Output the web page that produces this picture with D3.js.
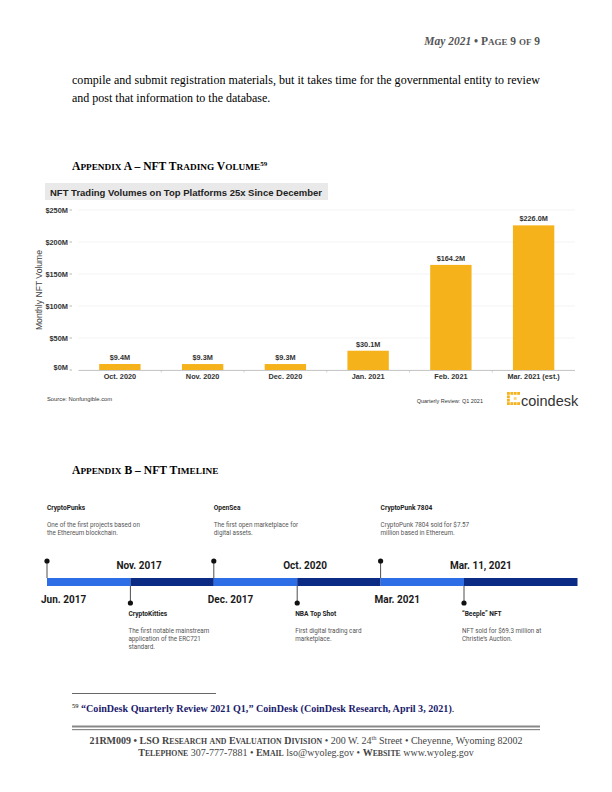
<!DOCTYPE html>
<html><head><meta charset="utf-8">
<script src="https://cdn.jsdelivr.net/npm/d3@7"></script>
<style>
html,body{margin:0;padding:0;background:#fff;}
svg{display:block;}
</style></head>
<body>
<svg id="page" width="612" height="792"></svg>
<script>
// ---------- DATA ----------
const months = ["Oct. 2020","Nov. 2020","Dec. 2020","Jan. 2021","Feb. 2021","Mar. 2021 (est.)"];
const volumes = [9.4, 9.3, 9.3, 30.1, 164.2, 226.0];
const volumeLabels = ["$9.4M","$9.3M","$9.3M","$30.1M","$164.2M","$226.0M"];
const yTicks = [0, 50, 100, 150, 200, 250];

const eventDates = ["Jun. 2017","Nov. 2017","Dec. 2017","Oct. 2020","Mar. 2021","Mar. 11, 2021"];
const eventTitles = ["CryptoPunks","CryptoKitties","OpenSea","NBA Top Shot","CryptoPunk 7804","\u201CBeeple\u201D NFT"];
const eventSides = ["top","bottom","top","bottom","top","bottom"];
const eventDescs = [
  ["One of the first projects based on","the Ethereum blockchain."],
  ["The first notable mainstream","application of the ERC721","standard."],
  ["The first open marketplace for","digital assets."],
  ["First digital trading card","marketplace."],
  ["CryptoPunk 7804 sold for $7.57","million based in Ethereum."],
  ["NFT sold for $69.3 million at","Christie\u2019s Auction."]
];

const svg = d3.select("#page");
const serif = "'Liberation Serif','Times New Roman',serif";
const sans = "'Liberation Sans',Arial,sans-serif";
const rob = "Roboto,'Liberation Sans',sans-serif";

// manual small caps: append tspans into a text selection
function smallCaps(sel, str, size, ratio){
  const re = /([a-z]+)|([^a-z]+)/g; let m;
  while((m = re.exec(str))){
    if(m[1]) sel.append("tspan").attr("font-size", size*ratio).text(m[1].toUpperCase());
    else sel.append("tspan").attr("font-size", size).text(m[2]);
  }
}

// ---------- HEADER ----------
const hdr = svg.append("text").attr("x", 540).attr("y", 45).attr("text-anchor","end")
  .attr("font-family", serif).attr("font-size", 11.5).attr("font-weight","bold").attr("fill","#555");
hdr.append("tspan").attr("font-style","italic").text("May 2021");
hdr.append("tspan").text(" \u2022 ");
smallCaps(hdr, "Page 9 of 9", 11.5, 0.78);

// ---------- BODY ----------
svg.append("text").attr("x",72).attr("y",84).attr("font-family",serif).attr("font-size",12).attr("fill","#000")
  .attr("textLength",468).attr("lengthAdjust","spacing")
  .text("compile and submit registration materials, but it takes time for the governmental entity to review");
svg.append("text").attr("x",72).attr("y",102).attr("font-family",serif).attr("font-size",12).attr("fill","#000")
  .text("and post that information to the database.");

// ---------- APPENDIX A TITLE ----------
const ta = svg.append("text").attr("x",72).attr("y",170).attr("font-family",serif).attr("font-size",11.6)
  .attr("font-weight","bold").attr("fill","#000");
smallCaps(ta, "Appendix A \u2013 NFT Trading Volume", 11.6, 0.8);
ta.append("tspan").attr("font-size",7).attr("dy",-4).text("59");

// ---------- CHART ----------
svg.append("rect").attr("x",45).attr("y",183).attr("width",283).attr("height",17).attr("fill","#e9e9e9");
svg.append("text").attr("x",50).attr("y",195.5).attr("font-family",sans).attr("font-weight","bold")
  .attr("font-size",9.5).attr("fill","#222").text("NFT Trading Volumes on Top Platforms 25x Since December");

const x = d3.scaleBand().domain(months).range([78.5, 575]).paddingInner(0.5).paddingOuter(0.25);
const y = d3.scaleLinear().domain([0, 250]).range([370, 210]);

const g = svg.append("g");
// gridlines
g.selectAll(".grid").data(yTicks).join("line")
  .attr("x1",78.5).attr("x2",575).attr("y1",d=>y(d)).attr("y2",d=>y(d))
  .attr("stroke","#f0f0f0").attr("stroke-width",0.8);
// y tick labels
g.selectAll(".yl").data(yTicks).join("text")
  .attr("x",68).attr("y",d=>y(d)).attr("dy",d=> d===0 ? "0.05em" : "0.35em").attr("text-anchor","end")
  .attr("font-family",sans).attr("font-size",7.4).attr("font-weight","bold").attr("fill","#333")
  .text(d=>"$"+d+"M");
g.selectAll(".yt").data(yTicks).join("line")
  .attr("x1",69.5).attr("x2",72).attr("y1",d=>y(d)).attr("y2",d=>y(d)).attr("stroke","#888").attr("stroke-width",0.6);
// y axis title
svg.append("text").attr("transform","translate(42,"+y(125)+") rotate(-90)").attr("text-anchor","middle")
  .attr("font-family",sans).attr("font-size",8.6).attr("fill","#444").text("Monthly NFT Volume");

// bars
g.selectAll(".bar").data(volumes).join("rect")
  .attr("x",(d,i)=>x(months[i])).attr("width",x.bandwidth())
  .attr("y",d=>y(d)).attr("height",d=>y(0)-y(d)).attr("fill","#f6b21b");
// bar labels
g.selectAll(".bl").data(volumes).join("text")
  .attr("x",(d,i)=>x(months[i])+x.bandwidth()/2).attr("y",d=>y(d)-4)
  .attr("text-anchor","middle").attr("font-family",sans).attr("font-size",7.3).attr("font-weight","bold").attr("fill","#333")
  .text((d,i)=>volumeLabels[i]);
// x axis
g.append("line").attr("x1",78.5).attr("x2",575).attr("y1",y(0)+0.5).attr("y2",y(0)+0.5).attr("stroke","#bbb").attr("stroke-width",0.8);
g.selectAll(".xt").data(months.slice(1)).join("line")
  .attr("x1",d=>x(d)-x.step()*0.25).attr("x2",d=>x(d)-x.step()*0.25)
  .attr("y1",y(0)).attr("y2",y(0)+2.5).attr("stroke","#bbb").attr("stroke-width",0.6);
g.selectAll(".xl").data(months).join("text")
  .attr("x",d=>x(d)+x.bandwidth()/2).attr("y",y(0)+9)
  .attr("text-anchor","middle").attr("font-family",sans).attr("font-size",7.3).attr("font-weight","bold").attr("fill","#333")
  .text(d=>d);

// source & branding
svg.append("text").attr("x",47).attr("y",401).attr("font-family",sans).attr("font-size",5.8).attr("fill","#333")
  .text("Source: Nonfungible.com");
svg.append("text").attr("x",483).attr("y",403).attr("text-anchor","end").attr("font-family",sans).attr("font-size",5.5).attr("fill","#333")
  .text("Quarterly Review: Q1 2021");
// coindesk logo icon
const logo = svg.append("g").attr("transform","translate(507,392)");
const cells = [[0,0],[1,0],[2,0],[3,0],[0,1],[0,2],[0,3],[1,3],[2,3],[3,3],[2,1.5]];
logo.selectAll("rect").data(cells).join("rect")
  .attr("x",d=>d[0]*3.4).attr("y",d=>d[1]*3.4).attr("width",2.8).attr("height",2.8)
  .attr("fill",(d,i)=>i===10?"#fbd27a":"#f6b21b");
svg.append("text").attr("x",521).attr("y",405.5).attr("font-family",sans).attr("font-size",14.5).attr("fill","#333")
  .text("coindesk");

// ---------- APPENDIX B TITLE ----------
const tb = svg.append("text").attr("x",72).attr("y",474).attr("font-family",serif).attr("font-size",11.6)
  .attr("font-weight","bold").attr("fill","#000");
smallCaps(tb, "Appendix B \u2013 NFT Timeline", 11.6, 0.8);

// ---------- TIMELINE ----------
const tx = d3.scalePoint().domain(eventDates).range([47, 464]);
const barY = 578, barH = 8, barEnd = 577.5;
const tl = svg.append("g");
tl.selectAll(".seg").data(eventDates).join("rect")
  .attr("x",d=>tx(d)).attr("y",barY)
  .attr("width",(d,i)=> (i<eventDates.length-1 ? tx(eventDates[i+1]) : barEnd) - tx(d))
  .attr("height",barH).attr("fill",(d,i)=> i%2===0 ? "#2d6ee6" : "#0b2b85");
// stems + dots
tl.selectAll(".stem").data(eventDates).join("line")
  .attr("x1",d=>tx(d)).attr("x2",d=>tx(d))
  .attr("y1",(d,i)=> eventSides[i]==="top" ? 561 : barY+barH)
  .attr("y2",(d,i)=> eventSides[i]==="top" ? barY : 603)
  .attr("stroke","#222").attr("stroke-width",0.8);
tl.selectAll(".dot").data(eventDates).join("circle")
  .attr("cx",d=>tx(d)).attr("cy",(d,i)=> eventSides[i]==="top" ? 561 : 603)
  .attr("r",2.6).attr("fill","#111");
// date labels
tl.selectAll(".dl").data(eventDates).join("text")
  .attr("x",(d,i)=> eventSides[i]==="top" ? tx(d)-6 : tx(d)-14)
  .attr("y",(d,i)=> eventSides[i]==="top" ? 602.5 : 568.5)
  .attr("font-family",rob).attr("font-weight","bold").attr("font-size",10).attr("fill","#1a1a1a")
  .text(d=>d);
// event titles
tl.selectAll(".et").data(eventTitles).join("text")
  .attr("x",(d,i)=> eventSides[i]==="top" ? tx(eventDates[i]) : tx(eventDates[i])-2)
  .attr("y",(d,i)=> eventSides[i]==="top" ? 510 : 616)
  .attr("font-family",rob).attr("font-weight","bold").attr("font-size",6.6).attr("fill","#222")
  .text(d=>d);
// event descriptions
eventDescs.forEach((lines,i)=>{
  const xx = eventSides[i]==="top" ? tx(eventDates[i]) : tx(eventDates[i])-2;
  const y0 = eventSides[i]==="top" ? 527 : 632.5;
  tl.append("g").selectAll("text").data(lines).join("text")
    .attr("x",xx).attr("y",(d,j)=>y0+j*8.4)
    .attr("font-family",rob).attr("font-size",6.3).attr("fill","#555")
    .text(d=>d);
});

// ---------- FOOTNOTE ----------
svg.append("line").attr("x1",72).attr("x2",216).attr("y1",693.5).attr("y2",693.5).attr("stroke","#000").attr("stroke-width",0.6);
const fn = svg.append("text").attr("x",72).attr("y",712).attr("font-family",serif).attr("font-size",10.1)
  .attr("font-weight","bold").attr("fill","#1b1b6b");
fn.append("tspan").attr("font-size",6.5).attr("dy",-4).attr("font-weight","normal").attr("fill","#000").text("59");
fn.append("tspan").attr("dy",4).text(" \u201CCoinDesk Quarterly Review 2021 Q1,\u201D CoinDesk (CoinDesk Research, April 3, 2021)");
fn.append("tspan").attr("font-weight","normal").attr("fill","#000").text(".");

// ---------- FOOTER ----------
svg.append("rect").attr("x",72).attr("y",725.5).attr("width",468).attr("height",2).attr("fill","#888");
svg.append("rect").attr("x",72).attr("y",729).attr("width",468).attr("height",1.2).attr("fill","#888");
const f1 = svg.append("text").attr("x",306).attr("y",744).attr("text-anchor","middle")
  .attr("font-family",serif).attr("font-size",10).attr("fill","#444");
f1.append("tspan").attr("font-weight","bold").text("21RM009 \u2022 ");
const f1b = f1.append("tspan").attr("font-weight","bold");
smallCaps(f1b, "LSO Research and Evaluation Division", 10, 0.78);
f1.append("tspan").text(" \u2022 200 W. 24");
f1.append("tspan").attr("font-size",6.5).attr("dy",-4).text("th");
f1.append("tspan").attr("dy",4).text(" Street \u2022 Cheyenne, Wyoming 82002");
const f2 = svg.append("text").attr("x",306).attr("y",756).attr("text-anchor","middle")
  .attr("font-family",serif).attr("font-size",10).attr("fill","#444");
smallCaps(f2.append("tspan").attr("font-weight","bold"), "Telephone", 10, 0.78);
f2.append("tspan").text(" 307-777-7881 \u2022 ");
smallCaps(f2.append("tspan").attr("font-weight","bold"), "Email", 10, 0.78);
f2.append("tspan").text(" lso@wyoleg.gov \u2022 ");
smallCaps(f2.append("tspan").attr("font-weight","bold"), "Website", 10, 0.78);
f2.append("tspan").text(" www.wyoleg.gov");
</script>
</body></html>
